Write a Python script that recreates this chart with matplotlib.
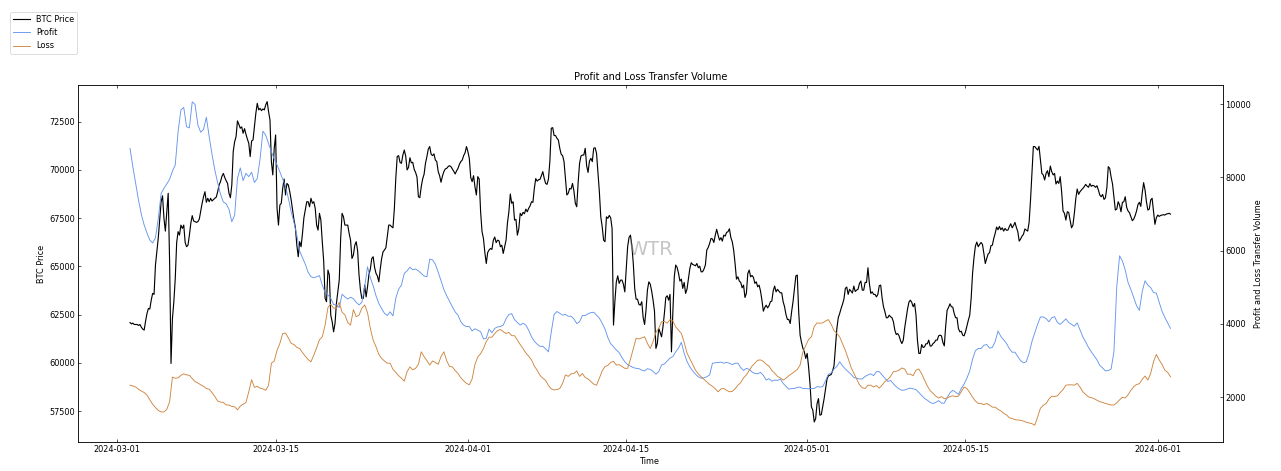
import matplotlib
matplotlib.use('Agg')
import matplotlib.pyplot as plt
import pandas as pd

# BTC price, every 3 hours
btc_start = '2024-03-02 03:00'
btc_price = [
    62090, 62020, 62060, 61990, 61990, 61990, 61940, 61990, 61850, 61750, 61700, 62160, 62560, 62820, 62790, 63250, 63600, 63550, 65070, 65760,
    66490, 67400, 68350, 68660, 67490, 66830, 67830, 68790, 65240, 59970, 62300, 63170, 64380, 66240, 66800, 66620, 67140, 66970, 67140, 66240,
    66020, 66100, 66620, 67230, 67630, 67350, 67320, 67280, 67320, 67450, 67870, 68270, 68610, 68870, 68320, 68530, 68350, 68530, 68390, 68460,
    68530, 68590, 68870, 69220, 69390, 69660, 69820, 69610, 69440, 69300, 68790, 68560, 69220, 70950, 71460, 71720, 72540, 72360, 72160, 72230,
    71900, 72140, 71850, 71600, 71380, 70690, 71500, 71550, 72240, 72930, 73450, 73110, 73190, 73070, 73160, 73110, 73370, 73540, 73020, 72590,
    70430, 69740, 71120, 71810, 68010, 67140, 68180, 68270, 69040, 69530, 68700, 69300, 69220, 68870, 68440, 67920, 67400, 67000, 66100, 65500,
    66280, 66020, 66710, 67520, 67920, 68350, 68350, 68090, 68530, 68270, 68350, 68010, 67140, 66880, 67750, 67400, 66280, 65270, 63340, 63170,
    64810, 64550, 62470, 62130, 61610, 62040, 63080, 63680, 64290, 66450, 67750, 67570, 67140, 67140, 67140, 66710, 66360, 65410, 65590, 66100,
    66280, 65810, 64550, 63770, 63340, 63340, 64030, 63420, 63940, 64580, 64860, 65410, 65500, 64950, 64640, 64500, 64200, 64860, 65410, 65760,
    65850, 65970, 66540, 67140, 67140, 67060, 67000, 68010, 69560, 70690, 70740, 70390, 70340, 70770, 71030, 70720, 70000, 70130, 70630, 70370,
    70390, 70030, 69870, 69630, 68610, 68560, 69130, 69530, 69770, 70340, 70690, 71080, 71210, 70810, 70740, 70830, 70510, 70430, 69910, 69700,
    69360, 69680, 69910, 70050, 70080, 70170, 70220, 70170, 70050, 69930, 69790, 69950, 70080, 70290, 70430, 70510, 70740, 70890, 71210, 70950,
    70600, 69610, 69390, 69700, 69130, 68700, 69650, 69530, 67830, 66800, 66450, 65720, 65150, 65720, 65850, 65930, 65880, 66360, 66520, 66230,
    66360, 66330, 66020, 66100, 65670, 66020, 66360, 67260, 67830, 68750, 68270, 68350, 67400, 67440, 66620, 66940, 67750, 67630, 67800, 67730,
    67970, 67830, 68010, 68140, 68350, 68320, 69040, 69550, 69420, 69490, 69510, 69700, 69910, 69560, 69300, 69250, 69530, 70460, 72160, 72190,
    71780, 71780, 71640, 71550, 71120, 70810, 70740, 70430, 69560, 68700, 68790, 69040, 69010, 69300, 68910, 68270, 68090, 69360, 70340, 70720,
    70770, 70770, 71120, 70220, 69870, 70460, 70600, 70430, 71120, 71150, 70860, 69870, 68870, 67570, 67060, 66360, 66280, 67570, 67490, 67640,
    67520, 66970, 61960, 63200, 64200, 64510, 64120, 64290, 64290, 64080, 63680, 64890, 66020, 66500, 66620, 66070, 65150, 63860, 63300, 63300,
    63030, 62990, 63170, 62340, 61990, 62730, 63770, 64200, 64080, 63720, 63250, 62680, 60750, 61000, 61780, 61580, 61350, 61870, 62560, 63390,
    63480, 63250, 63550, 60570, 62650, 64460, 65070, 64950, 64640, 64240, 64340, 63860, 64170, 63600, 63820, 64340, 64890, 65190, 65100, 65070,
    65030, 65150, 64930, 65010, 64720, 64720, 64860, 65070, 65850, 65980, 66190, 66450, 66420, 66240, 66620, 66920, 66620, 66360, 66490, 66310,
    66620, 66570, 66760, 66800, 66950, 66500, 66280, 65850, 65150, 64340, 64460, 64240, 64170, 63890, 64030, 63390, 63600, 64630, 64810, 64460,
    64530, 64430, 64120, 64200, 63940, 64030, 63720, 63250, 62680, 62870, 62990, 62850, 62960, 63170, 63200, 63740, 63980, 63680, 63810, 63720,
    63630, 63630, 63170, 62910, 62510, 62250, 62250, 62040, 62650, 63170, 63860, 64510, 64550, 62650, 61440, 61060, 60750, 60570, 60230, 60490,
    59790, 58930, 57720, 57550, 56940, 57110, 57890, 58150, 57290, 57320, 57720, 58150, 58670, 59150, 59330, 59360, 59400, 59590, 59850, 60830,
    61780, 62340, 62560, 62820, 63040, 63300, 63860, 63930, 63550, 63810, 63720, 63620, 63980, 63700, 63770, 63820, 64120, 64240, 63770, 63770,
    64170, 64170, 64930, 64120, 63600, 63680, 63550, 63550, 63420, 63550, 64000, 64030, 63370, 62910, 62650, 62340, 62340, 62470, 62390, 62340,
    62130, 61700, 61470, 61520, 61400, 61160, 61000, 61180, 61820, 62300, 62790, 63150, 63250, 63130, 62910, 63080, 62470, 61180, 60490, 60490,
    60950, 60800, 60830, 60990, 60990, 61180, 60870, 60880, 61000, 61060, 61180, 61180, 61400, 61440, 61400, 61060, 60880, 61920, 62730, 62870,
    63060, 62910, 62890, 62560, 62340, 62340, 61780, 61610, 61640, 61440, 61400, 61610, 61920, 62210, 62470, 63340, 64640, 65450, 66050, 66260,
    66020, 66140, 66240, 66140, 65670, 65150, 65410, 65640, 65710, 66070, 66100, 66450, 66710, 67040, 66900, 67070, 66900, 67000, 66830, 66970,
    66870, 66880, 67060, 67210, 67000, 67120, 67280, 67020, 66800, 66310, 66420, 66570, 66660, 66940, 66880, 66830, 67280, 68440, 69820, 71210,
    71210, 71120, 71030, 71220, 70510, 69820, 69740, 69480, 69820, 69960, 69650, 70200, 69910, 69740, 69820, 69270, 69420, 69300, 69650, 68870,
    67870, 67750, 67400, 67830, 67800, 67400, 67000, 67140, 67750, 68490, 69010, 68730, 68870, 68960, 69040, 69130, 69250, 69160, 69100, 69290,
    69150, 69200, 69170, 69100, 69180, 68960, 68700, 68610, 68730, 68470, 68560, 69080, 70170, 70080, 69630, 69270, 68610, 67920, 67970, 68350,
    68180, 67830, 68320, 68350, 68610, 68060, 67870, 67780, 67570, 67370, 67450, 67630, 67870, 68200, 68320, 68110, 68790, 69340, 68960, 68350,
    67920, 67970, 68440, 68530, 67870, 67180, 67520, 67660, 67590, 67640, 67660, 67680, 67660, 67710, 67730, 67750,
    67710,
]

# transfer volume in profit / in loss, read every 6 hours
flow_start = '2024-03-02 03:00'
profit = [
    8790, 8290, 7840, 7380, 6990, 6700, 6480, 6290, 6210, 6350, 6880, 7560, 7700, 7820, 7950, 8170, 8340, 9250, 9840, 9910,
    9380, 9350, 10060, 9990, 9430, 9230, 9310, 9640, 9110, 8630, 8200, 7850, 7540, 7330, 7280, 7130, 6790, 6970, 7970, 8260,
    7910, 8110, 8020, 8140, 7860, 7970, 8500, 9260, 9150, 8920, 8700, 8500, 8340, 8150, 7950, 7750, 7430, 7060, 6770, 6420,
    5990, 5810, 5630, 5410, 5290, 5260, 5290, 5320, 5060, 4860, 4790, 4700, 4530, 4520, 4450, 4810, 4740, 4680, 4730, 4690,
    4590, 4520, 4590, 5020, 5560, 5260, 5040, 4770, 4560, 4420, 4290, 4230, 4330, 4220, 4700, 4950, 5060, 5380, 5450, 5550,
    5480, 5500, 5450, 5380, 5310, 5290, 5770, 5750, 5630, 5410, 5180, 4940, 4770, 4620, 4470, 4330, 4240, 4060, 3970, 3930,
    3930, 3810, 3870, 3830, 3790, 3590, 3610, 3860, 3760, 3880, 3920, 3930, 3970, 4140, 4260, 4280, 4120, 4040, 3970, 4020,
    3970, 3830, 3650, 3530, 3450, 3390, 3390, 3320, 3240, 3790, 4260, 4340, 4290, 4240, 4260, 4210, 4210, 4140, 4010, 4060,
    4230, 4230, 4280, 4310, 4320, 4240, 4160, 4020, 3860, 3630, 3460, 3380, 3290, 3220, 3080, 2970, 2890, 2850, 2810, 2790,
    2780, 2740, 2720, 2780, 2760, 2710, 2630, 2700, 2880, 2910, 2990, 3070, 3110, 3240, 3340, 3500, 3200, 2980, 2830, 2720,
    2630, 2560, 2520, 2530, 2560, 2610, 2930, 2940, 2950, 2960, 2930, 2950, 2930, 2890, 2930, 2930, 2810, 2730, 2790, 2760,
    2690, 2650, 2640, 2680, 2600, 2470, 2510, 2440, 2470, 2460, 2500, 2380, 2300, 2220, 2240, 2240, 2270, 2280, 2240, 2240,
    2230, 2240, 2240, 2290, 2280, 2290, 2450, 2630, 2660, 2770, 2840, 2970, 2860, 2770, 2700, 2630, 2540, 2520, 2500, 2500,
    2570, 2610, 2640, 2590, 2700, 2700, 2610, 2520, 2430, 2460, 2370, 2290, 2230, 2190, 2200, 2230, 2250, 2230, 2210, 2130,
    2050, 1970, 1920, 1860, 1830, 1860, 1910, 1840, 1840, 1990, 2120, 2190, 2140, 2080, 2240, 2360, 2520, 2720, 3040, 3270,
    3330, 3330, 3420, 3440, 3340, 3360, 3520, 3810, 3660, 3570, 3470, 3330, 3230, 3230, 3110, 3000, 2940, 2970, 3200, 3520,
    3760, 3990, 4190, 4190, 4150, 4060, 4170, 4200, 4040, 3990, 4060, 4140, 4040, 3990, 3940, 4030, 3840, 3650, 3510, 3360,
    3240, 3130, 3020, 2870, 2800, 2720, 2730, 2770, 3240, 5020, 5860, 5720, 5470, 5130, 4940, 4720, 4500, 4370, 4880, 5180,
    5060, 4990, 4860, 4840, 4590, 4350, 4180, 4030,
    3880,
]
loss = [
    2330, 2310, 2280, 2220, 2170, 2130, 2060, 1930, 1810, 1720, 1640, 1600, 1600, 1670, 1880, 2550, 2520, 2530, 2600, 2640,
    2610, 2600, 2510, 2430, 2390, 2340, 2300, 2240, 2220, 2130, 2020, 1900, 1870, 1860, 1790, 1790, 1750, 1740, 1660, 1760,
    1810, 1860, 2150, 2480, 2270, 2300, 2250, 2230, 2190, 2330, 2930, 2990, 3280, 3470, 3740, 3750, 3620, 3470, 3440, 3360,
    3330, 3220, 3120, 3030, 2970, 3150, 3350, 3570, 3650, 3970, 4450, 4540, 4430, 4430, 4590, 4320, 4250, 4040, 3970, 4390,
    4200, 4240, 4430, 4520, 4310, 3880, 3560, 3380, 3170, 3060, 2990, 2930, 2930, 2760, 2680, 2590, 2520, 2440, 2700, 2830,
    2750, 2790, 2900, 3240, 3110, 3000, 2880, 2990, 2950, 2900, 3110, 3240, 3000, 2840, 2830, 2730, 2650, 2530, 2450, 2380,
    2340, 2500, 2900, 3100, 3190, 3330, 3520, 3640, 3640, 3740, 3820, 3850, 3790, 3740, 3770, 3680, 3680, 3560, 3440, 3330,
    3210, 3120, 3020, 2850, 2740, 2600, 2520, 2460, 2320, 2230, 2200, 2210, 2240, 2380, 2610, 2570, 2640, 2650, 2720, 2570,
    2650, 2540, 2500, 2430, 2360, 2330, 2520, 2720, 2840, 2870, 2950, 2980, 2880, 2890, 2840, 2790, 2790, 3040, 3330, 3610,
    3590, 3620, 3650, 3470, 3330, 3520, 3770, 3880, 4060, 4070, 4020, 4120, 4080, 3920, 3830, 3740, 3500, 3210, 3050, 2900,
    2740, 2640, 2560, 2490, 2420, 2350, 2300, 2230, 2150, 2230, 2240, 2190, 2150, 2160, 2230, 2330, 2400, 2530, 2610, 2730,
    2850, 2930, 3010, 3020, 2980, 2900, 2850, 2730, 2660, 2570, 2530, 2470, 2520, 2590, 2640, 2700, 2760, 2880, 3240, 3410,
    3580, 3650, 3930, 4030, 4020, 4030, 4080, 4120, 3990, 3820, 3740, 3650, 3460, 3280, 3060, 2820, 2660, 2500, 2340, 2260,
    2240, 2330, 2330, 2280, 2320, 2250, 2330, 2430, 2490, 2570, 2700, 2710, 2740, 2800, 2770, 2630, 2630, 2590, 2740, 2770,
    2640, 2470, 2310, 2180, 2110, 2030, 1980, 2020, 1960, 1980, 2020, 2040, 2020, 2030, 2150, 2280, 2240, 2130, 2000, 1900,
    1830, 1830, 1800, 1830, 1790, 1730, 1730, 1670, 1630, 1560, 1520, 1440, 1420, 1390, 1380, 1370, 1350, 1320, 1300, 1280,
    1240, 1460, 1700, 1780, 1830, 1950, 2030, 2020, 2040, 2130, 2210, 2330, 2340, 2340, 2330, 2380, 2280, 2150, 2080, 2010,
    1990, 1960, 1920, 1880, 1860, 1830, 1810, 1790, 1790, 1850, 1930, 2000, 1980, 2070, 2190, 2290, 2350, 2370, 2490, 2580,
    2470, 2650, 2970, 3170, 3020, 2900, 2740, 2680,
    2560,
]


def main():
    btc_time = pd.date_range(btc_start, periods=len(btc_price), freq='3h')
    flow_time = pd.date_range(flow_start, periods=len(profit), freq='6h')

    # the reference looks like a default-style figure shrunk down, so draw at a low dpi
    dpi = 58.6
    W, H = 1281, 471
    fig = plt.figure(figsize=(W / dpi, H / dpi), dpi=dpi)
    ax1 = fig.add_axes([78 / W, 29 / H, 1144.5 / W, 357 / H])

    ax1.plot(btc_time, btc_price, color='black', lw=1.4, label='BTC Price')
    ax1.set_ylim(55900, 74400)
    ax1.set_xlabel('Time')
    ax1.set_ylabel('BTC Price')
    ax1.set_title('Profit and Loss Transfer Volume')

    ax2 = ax1.twinx()
    ax2.plot(flow_time, profit, color='cornflowerblue', lw=1.1, label='Profit')
    ax2.plot(flow_time, loss, color='peru', lw=1.1, label='Loss')
    ax2.set_ylim(780, 10520)
    ax2.set_ylabel('Profit and Loss Transfer Volume')

    ax1.tick_params(direction='in', top=True)
    ax2.tick_params(direction='in')

    ax1.text(0.5, 0.54, 'WTR', transform=ax1.transAxes, ha='center', va='center',
             fontsize=24, color='grey', alpha=0.45)

    fig.legend(loc='upper left', bbox_to_anchor=(10 / W, 1 - 12 / H), borderaxespad=0)
    fig.savefig('out.png', dpi=dpi)


if __name__ == '__main__':
    main()
